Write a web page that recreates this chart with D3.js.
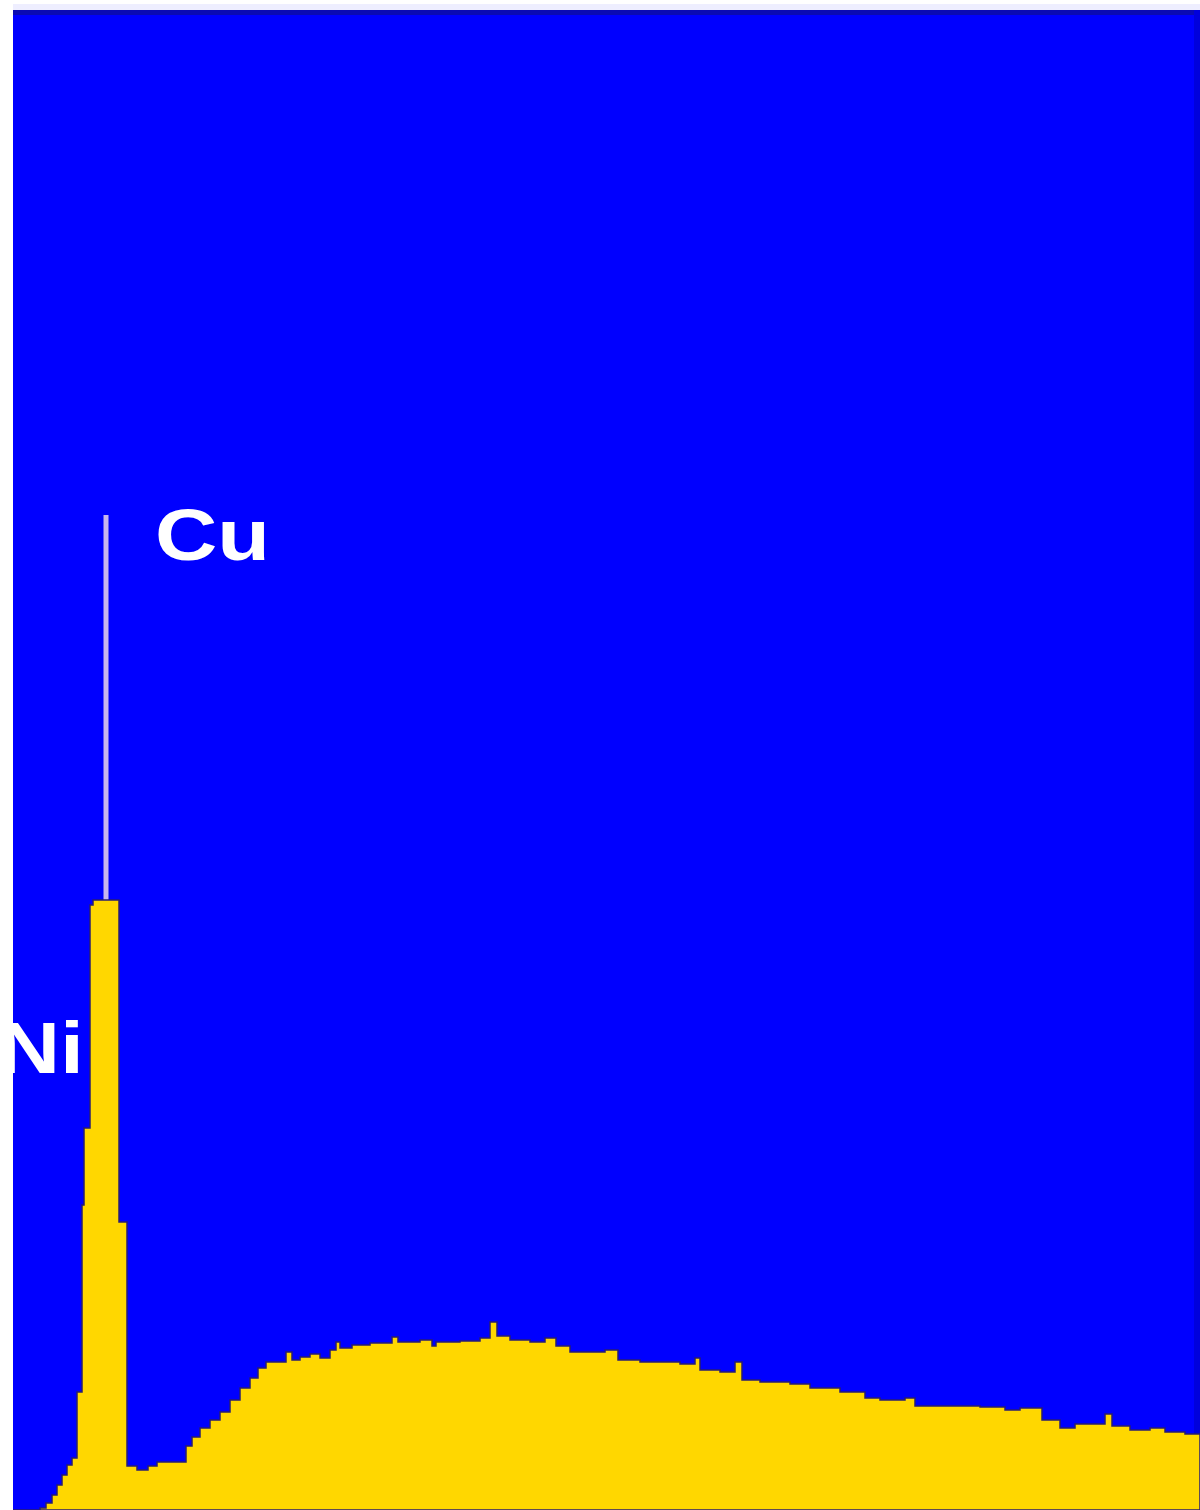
<!DOCTYPE html>
<html>
<head>
<meta charset="utf-8">
<script src="https://cdn.jsdelivr.net/npm/d3@7"></script>
<style>
  html, body { margin: 0; padding: 0; background: #ffffff; }
  svg { display: block; }
</style>
</head>
<body>
<div id="spectrum"></div>
<script>
// Channel energies (keV) where the counts change
const energies = [
    0.00, 0.27, 0.33, 0.39, 0.44, 0.49, 0.54, 0.59, 0.64, 0.69, 0.71, 0.77, 0.80,
    1.06, 1.14, 1.24, 1.35, 1.44, 1.73, 1.79, 1.87, 1.97, 2.07, 2.17, 2.27, 2.37,
    2.45, 2.53, 2.73, 2.79, 2.87, 2.97, 3.07, 3.17, 3.23, 3.27, 3.39, 3.57, 3.79,
    3.85, 4.07, 4.19, 4.23, 4.47, 4.67, 4.77, 4.84, 4.97, 5.17, 5.32, 5.43, 5.57,
    5.77, 5.92, 6.05, 6.27, 6.47, 6.67, 6.82, 6.87, 7.07, 7.22, 7.29, 7.47, 7.77,
    7.97, 8.27, 8.52, 8.67, 8.92, 9.02, 9.37, 9.67, 9.92, 10.07, 10.29, 10.47,
    10.62, 10.92, 10.99, 11.17, 11.37, 11.52, 11.72, 11.87
];

// Counts per channel (same order as energies)
const counts = [
    0, 4, 14, 30, 50, 70, 90, 104, 236, 610, 764, 1210, 1220,
    576, 88, 80, 88, 96, 128, 146, 164, 180, 196, 220, 244, 264,
    284, 296, 316, 300, 306, 312, 304, 320, 336, 324, 330, 334, 346,
    336, 340, 328, 336, 338, 344, 376, 348, 340, 336, 344, 328, 316,
    316, 320, 300, 296, 296, 292, 304, 280, 276, 296, 260, 256, 252,
    244, 236, 224, 220, 224, 208, 208, 206, 200, 204, 180, 164,
    172, 192, 168, 160, 164, 156, 152, 152
];

// Element markers (KLM lines) and labels
const markerElements = ["Cu"];
const markerEnergies = [0.93];
const markerHeights = [1990];
const labelElements = ["Cu", "Ni"];
const labelEnergies = [0.93, 0.85];

function drawSpectrum() {
    const width = 1200;
    const height = 1510;
    const plot = { left: 13, top: 10, right: 1200, bottom: 1510 };

    const svg = d3.select("#spectrum")
        .append("svg")
        .attr("width", width)
        .attr("height", height);

    // Clip everything to the plot window (Ni label runs off the left edge)
    svg.append("defs").append("clipPath")
        .attr("id", "plot-clip")
        .append("rect")
        .attr("x", plot.left)
        .attr("y", plot.top)
        .attr("width", plot.right - plot.left)
        .attr("height", plot.bottom - plot.top);

    // Thin light strip above the window
    svg.append("rect")
        .attr("x", plot.left).attr("y", 4)
        .attr("width", plot.right - plot.left).attr("height", 6)
        .attr("fill", "#eeeeff");

    const g = svg.append("g").attr("clip-path", "url(#plot-clip)");

    // Blue background
    g.append("rect")
        .attr("x", plot.left).attr("y", plot.top)
        .attr("width", plot.right - plot.left).attr("height", plot.bottom - plot.top)
        .attr("fill", "#0000ff");
    g.append("rect")
        .attr("x", plot.left).attr("y", plot.top)
        .attr("width", plot.right - plot.left).attr("height", 5)
        .attr("fill", "#0a0ab4");
    g.append("rect")
        .attr("x", plot.right - 6).attr("y", plot.top)
        .attr("width", 6).attr("height", plot.bottom - plot.top)
        .attr("fill", "#0000dc");

    // Scales
    const xScale = d3.scaleLinear()
        .domain([0, 11.87])
        .range([plot.left, plot.right]);

    const yScale = d3.scaleLinear()
        .domain([0, 3000])
        .range([plot.bottom, plot.top]);

    const data = energies.map((e, i) => ({ e: e, c: counts[i] }));

    // Marker lines go behind the spectrum
    g.selectAll("line.marker")
        .data(markerElements)
        .enter()
        .append("line")
        .attr("class", "marker")
        .attr("x1", (d, i) => xScale(markerEnergies[i]))
        .attr("x2", (d, i) => xScale(markerEnergies[i]))
        .attr("y1", (d, i) => yScale(markerHeights[i]))
        .attr("y2", yScale(0))
        .attr("stroke", "#c8b6ee")
        .attr("stroke-width", 5);

    // Spectrum as a filled histogram
    const area = d3.area()
        .x(d => xScale(d.e))
        .y0(yScale(0))
        .y1(d => yScale(d.c))
        .curve(d3.curveStepAfter);

    g.append("path")
        .datum(data)
        .attr("d", area)
        .attr("fill", "#ffd700")
        .attr("stroke", "#2a1e70")
        .attr("stroke-width", 1.5)
        .attr("stroke-linejoin", "miter");

    // Element labels
    const labelOffsets = { Cu: [49, 560], Ni: [-100, 1073] };
    g.selectAll("text.label")
        .data(labelElements)
        .enter()
        .append("text")
        .attr("class", "label")
        .attr("x", (d, i) => xScale(labelEnergies[i]) + labelOffsets[d][0])
        .attr("y", d => labelOffsets[d][1])
        .attr("textLength", d => d === "Cu" ? 115 : 86)
        .attr("lengthAdjust", "spacingAndGlyphs")
        .attr("font-family", "'Liberation Sans', Arial, sans-serif")
        .attr("font-weight", "bold")
        .attr("font-size", 72)
        .attr("fill", "#ffffff")
        .text(d => d);
}

drawSpectrum();
</script>
</body>
</html>
